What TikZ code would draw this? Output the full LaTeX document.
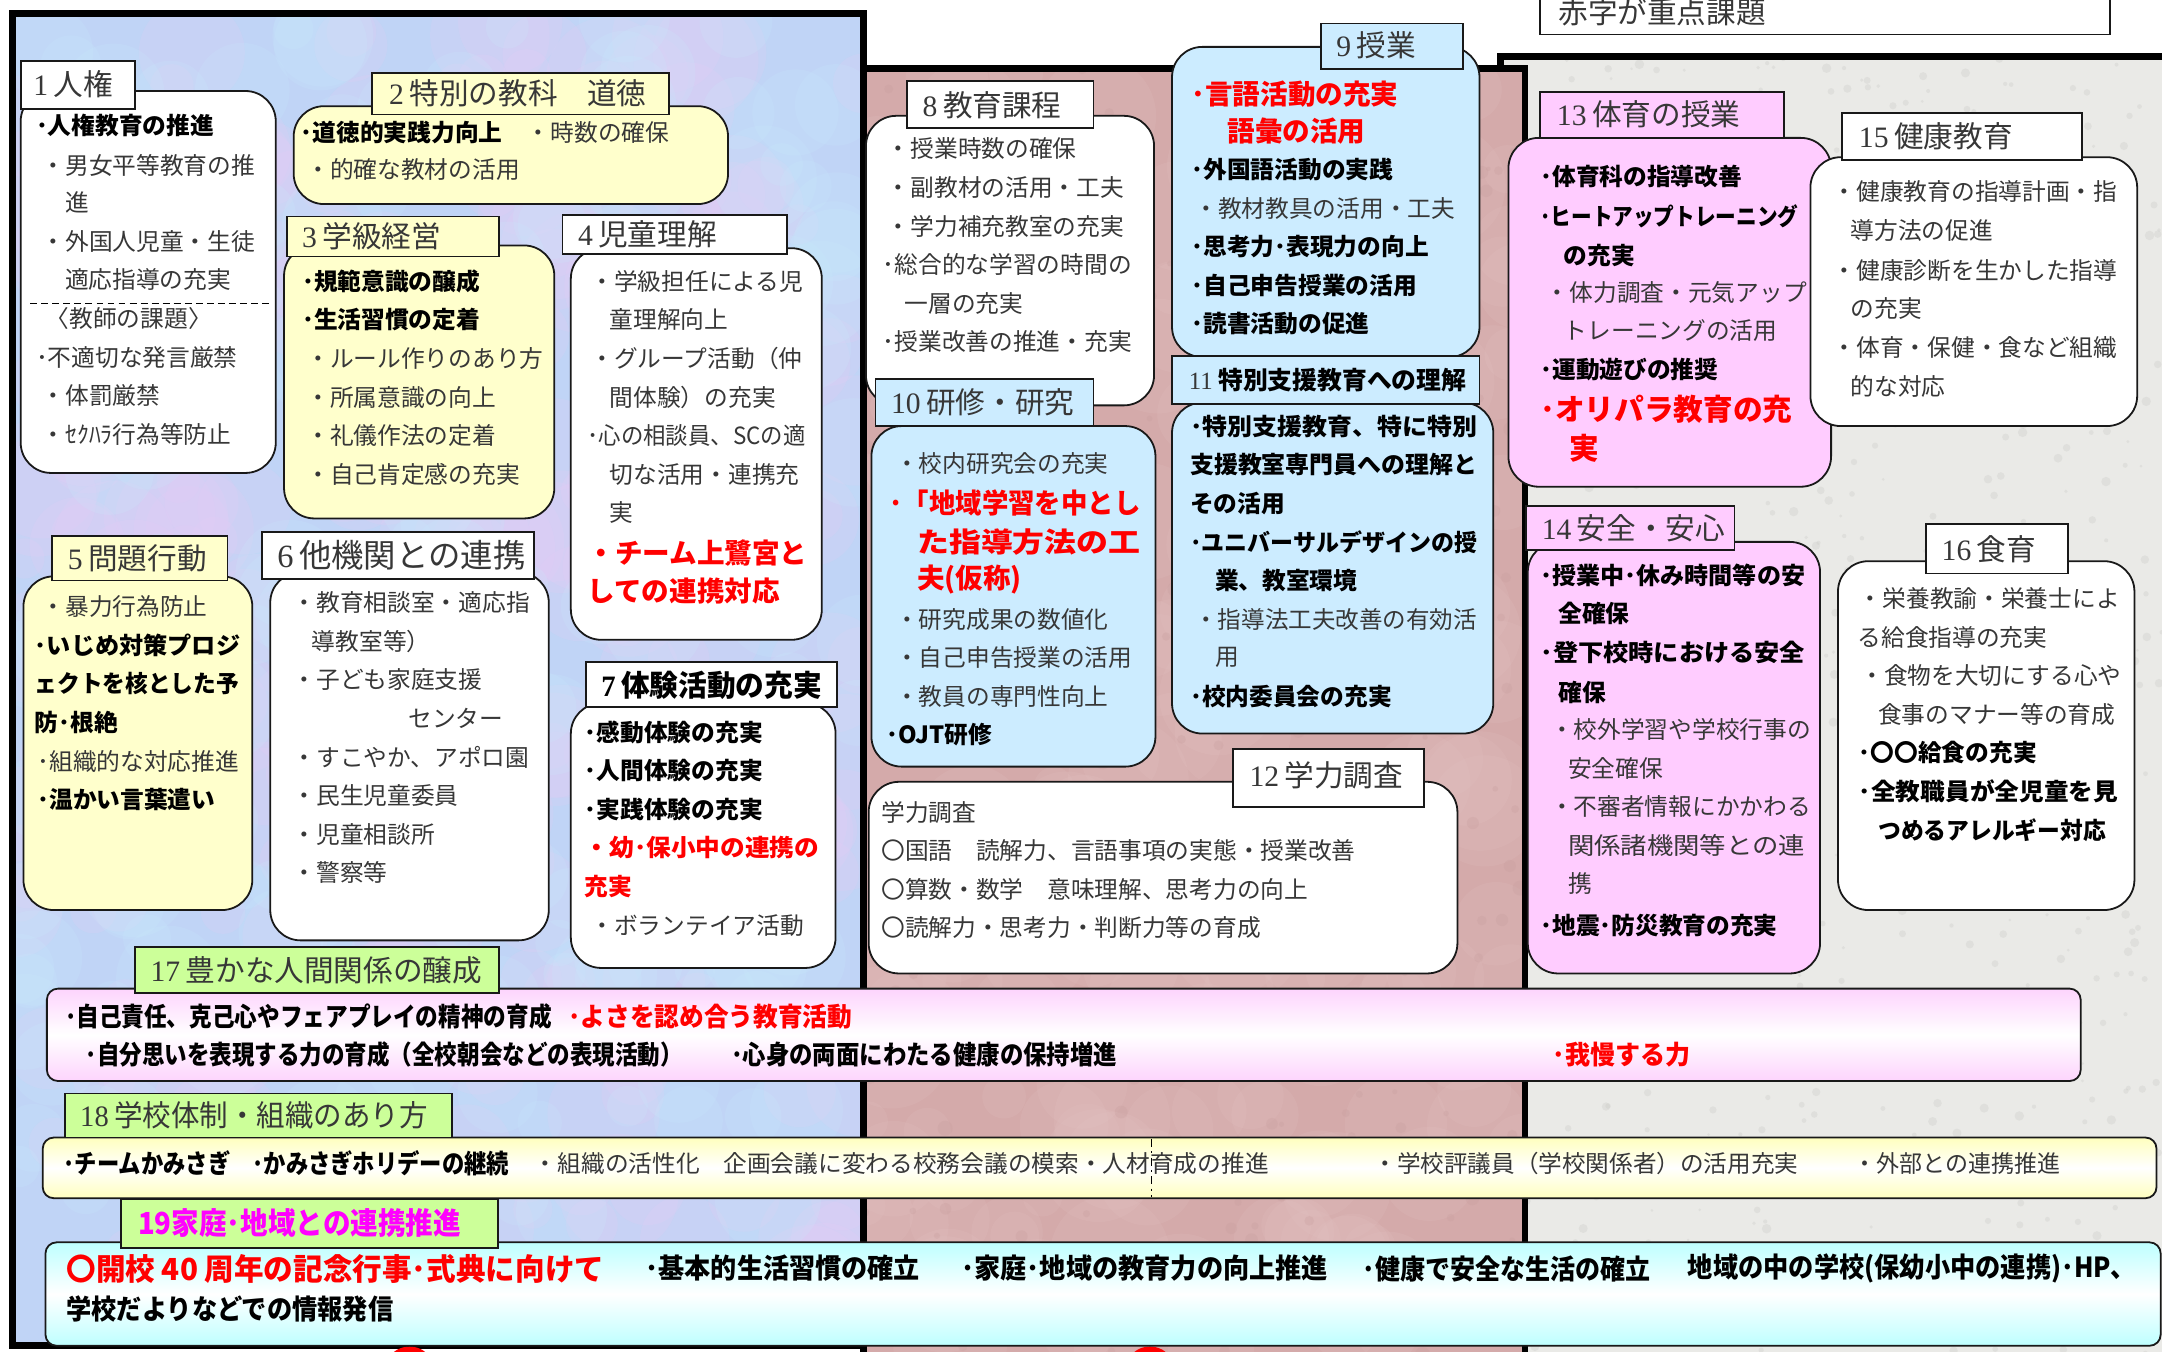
\documentclass[tikz,border=0pt]{standalone}
\usepackage{fontspec}
\usepackage{graphicx}
\setmainfont{Liberation Serif}
\newfontfamily\jp{Noto Sans CJK JP}
\newfontfamily\srf{Liberation Serif}
\definecolor{bluebg}{RGB}{192,212,246}
\definecolor{lavbg}{RGB}{230,204,244}
\definecolor{cyanbg}{RGB}{200,234,252}
\definecolor{pinkbg}{RGB}{212,170,170}
\definecolor{pinklt}{RGB}{228,196,196}
\definecolor{pinkdk}{RGB}{198,156,156}
\definecolor{graybg}{RGB}{234,234,231}
\definecolor{graydk}{RGB}{200,200,196}
\definecolor{yel}{RGB}{255,255,204}
\definecolor{lblue}{RGB}{204,236,255}
\definecolor{lpink}{RGB}{255,204,255}
\definecolor{lgreen}{RGB}{204,255,153}
\definecolor{txtg}{RGB}{55,55,55}
\definecolor{mag}{RGB}{255,0,255}
\definecolor{rd}{RGB}{255,0,0}
\definecolor{shpink}{RGB}{253,212,253}
\definecolor{shyel}{RGB}{255,255,190}
\definecolor{shcyan}{RGB}{190,255,255}
\newcommand\FW[2]{\resizebox{#1pt}{\height}{#2}}
\newcommand\Tx[4][stx]{\node[#1] (#2) at (#3) {#4};}
\newcommand\CB[6]{\node[#6,minimum width={(#4)-(#2)},minimum height={(#5)-(#3)}] (#1) at (#2,#3) {};}
\newcommand\Nm[1]{\srf #1\hspace{4pt}\jp }
\tikzset{
  stx/.style={anchor=west,inner sep=0pt,text=txtg,font=\jp\fontsize{17.2}{20}\selectfont},
  stb/.style={anchor=west,inner sep=0pt,text=black,font=\jp\bfseries\fontsize{17.2}{20}\selectfont},
  str/.style={stb,text=rd},
  strl/.style={anchor=west,inner sep=0pt,text=rd,font=\jp\bfseries\fontsize{20}{22}\selectfont},
  strx/.style={anchor=west,inner sep=0pt,text=rd,font=\jp\bfseries\fontsize{21.5}{24}\selectfont},
  slab/.style={anchor=west,inner sep=0pt,text=txtg,font=\jp\fontsize{21.5}{24}\selectfont},
  scond/.style={anchor=west,inner sep=0pt,text=black,font=\jp\bfseries\fontsize{19}{22}\selectfont},
  scondr/.style={scond,text=rd},
  sb19/.style={anchor=west,inner sep=0pt,text=black,font=\jp\bfseries\fontsize{20}{22}\selectfont},
  sbig/.style={anchor=west,inner sep=0pt,text=rd,font=\jp\bfseries\fontsize{22}{24}\selectfont},
  cbox/.style={draw=black!90,line width=1.3pt,rounded corners=22pt,anchor=north west,inner sep=0pt,outer sep=0pt},
  lbox/.style={draw=black!90,line width=1.3pt,anchor=north west,inner sep=0pt,outer sep=0pt},
  bbox/.style={draw=black!90,line width=1.3pt,rounded corners=8pt,anchor=north west,inner sep=0pt,outer sep=0pt},
}
\begin{document}
\begin{tikzpicture}[x=1pt,y=-1pt]
\useasboundingbox (0,0) rectangle (1568,980);
\pgfmathsetseed{11}
% ---------- gray panel
\fill[graybg] (1088,41) rectangle (1590,990);
\begin{scope}
\clip (1088,41) rectangle (1590,990);
\foreach \k in {1,...,700}{%
  \pgfmathsetmacro\pxa{1088+rnd*490}%
  \pgfmathsetmacro\pya{41+rnd*945}%
  \pgfmathsetmacro\pra{1+rnd*2.5}%
  \fill[graydk,opacity=0.3] (\pxa,\pya) circle[radius=\pra];
}
\end{scope}
\draw[line width=5pt] (1088,990) -- (1088,41) -- (1590,41);
% ---------- pink panel
\fill[pinkbg] (626,50) rectangle (1106,990);
\begin{scope}
\clip (626,50) rectangle (1106,990);
\foreach \k in {1,...,220}{%
  \pgfmathsetmacro\pxa{626+rnd*480}%
  \pgfmathsetmacro\pya{50+rnd*940}%
  \pgfmathsetmacro\pra{14+rnd*30}%
  \fill[pinklt,opacity=0.18] (\pxa,\pya) circle[radius=\pra];
}
\foreach \k in {1,...,300}{%
  \pgfmathsetmacro\pxa{626+rnd*480}%
  \pgfmathsetmacro\pya{50+rnd*940}%
  \pgfmathsetmacro\pra{1.5+rnd*4}%
  \fill[pinkdk,opacity=0.25] (\pxa,\pya) circle[radius=\pra];
}
\end{scope}
\draw[line width=5pt] (626,990) -- (626,50) -- (1106,50) -- (1106,990);
% ---------- blue panel
\fill[bluebg] (9,10) rectangle (626,976);
\begin{scope}
\clip (9,10) rectangle (626,976);
\foreach \k in {1,...,320}{%
  \pgfmathsetmacro\pxa{9+rnd*617}%
  \pgfmathsetmacro\pya{10+rnd*966}%
  \pgfmathsetmacro\pra{14+rnd*32}%
  \fill[lavbg,opacity=0.2] (\pxa,\pya) circle[radius=\pra];
}
\foreach \k in {1,...,200}{%
  \pgfmathsetmacro\pxa{9+rnd*617}%
  \pgfmathsetmacro\pya{10+rnd*966}%
  \pgfmathsetmacro\pra{12+rnd*28}%
  \fill[cyanbg,opacity=0.2] (\pxa,\pya) circle[radius=\pra];
}
\end{scope}
\draw[line width=5pt] (9,10) rectangle (626,976);
% red tips at the bottom
\fill[rd] (285,981) .. controls (292,975) and (302,975) .. (309,981) -- cycle;
\fill[rd] (822,981) .. controls (829,975) and (839,975) .. (846,981) -- cycle;
% ---------- note box
\CB{note}{1117}{-15}{1530}{25}{lbox,fill=white}
\Tx[slab]{notet}{1130,9}{赤字が重点課題}
% ---------- box 1
\CB{b1}{15}{66}{200}{343}{cbox,fill=white}
\CB{l1}{15}{44}{98}{79}{lbox,fill=white}
\Tx[slab]{L1}{24,61}{\Nm{1}人権}
\Tx[stb]{a1}{26,91}{･人権教育の推進}
\Tx{a2}{30,120}{・男女平等教育の推}
\Tx{a3}{47,147}{進}
\Tx{a4}{30,175}{・外国人児童・生徒}
\Tx{a5}{47,203}{適応指導の充実}
\draw[line width=0.9pt,dash pattern=on 5pt off 3pt] (22,220) -- (195,220);
\Tx{a6}{33,231}{〈教師の課題〉}
\Tx{a7}{26,259}{･不適切な発言厳禁}
\Tx{a8}{30,287}{・体罰厳禁}
\Tx{a9}{30,315}{・ｾｸﾊﾗ行為等防止}
% ---------- box 2
\CB{b2}{213}{77}{528}{148}{cbox,fill=yel}
\CB{l2}{270}{53}{485}{83}{lbox,fill=yel}
\Tx[slab]{L2}{282,68}{\Nm{2}特別の教科　道徳}
\Tx[stb]{c1}{218,96}{･道徳的実践力向上}
\Tx{c2}{382,96}{・時数の確保}
\Tx{c3}{222,123}{・的確な教材の活用}
% ---------- box 3
\CB{b3}{206}{178}{402}{376}{cbox,fill=yel}
\CB{l3}{208}{157}{362}{186}{lbox,fill=yel}
\Tx[slab]{L3}{219,171}{\Nm{3}学級経営}
\Tx[stb]{d1}{219,204}{･規範意識の醸成}
\Tx[stb]{d2}{219,232}{･生活習慣の定着}
\Tx{d3}{222,260}{・ルール作りのあり方}
\Tx{d4}{222,288}{・所属意識の向上}
\Tx{d5}{222,316}{・礼儀作法の定着}
\Tx{d6}{222,344}{・自己肯定感の充実}
% ---------- box 4
\CB{b4}{414}{180}{596}{464}{cbox,fill=white}
\CB{l4}{408}{156}{571}{184}{lbox,fill=white}
\Tx[slab]{L4}{419,170}{\Nm{4}児童理解}
\Tx{e1}{428,204}{・学級担任による児}
\Tx{e2}{442,232}{童理解向上}
\Tx{e3}{428,260}{・グループ活動（仲}
\Tx{e4}{442,288}{間体験）の充実}
\Tx{e5}{426,316}{\FW{158}{･心の相談員、SCの適}}
\Tx{e6}{442,344}{切な活用・連携充}
\Tx{e7}{442,372}{実}
\Tx[strl]{e8}{426,401}{・チーム上鷺宮と}
\Tx[strl]{e9}{426,429}{しての連携対応}
% ---------- box 5
\CB{b5}{17}{418}{183}{660}{cbox,fill=yel}
\CB{l5}{38}{389}{165}{421}{lbox,fill=yel}
\Tx[slab]{L5}{49,405}{\Nm{5}問題行動}
\Tx{f1}{30,440}{・暴力行為防止}
\Tx[stb]{f2}{25,468}{\FW{149}{･いじめ対策プロジ}}
\Tx[stb]{f3}{25,496}{\FW{148}{ェクトを核とした予}}
\Tx[stb]{f4}{25,524}{防･根絶}
\Tx{f5}{27,552}{･組織的な対応推進}
\Tx[stb]{f6}{27,580}{･温かい言葉遣い}
% ---------- box 6
\CB{b6}{196}{415}{398}{682}{cbox,fill=white}
\CB{l6}{190}{386}{387}{420}{lbox,fill=white}
\Tx[slab]{L6}{201,403}{\fontsize{23.5}{26}\selectfont\Nm{6}他機関との連携}
\Tx{g1}{212,437}{・教育相談室・適応指}
\Tx{g2}{226,465}{導教室等）}
\Tx{g3}{212,493}{・子ども家庭支援}
\Tx{g4}{296,521}{センター}
\Tx{g5}{212,549}{・すこやか、アポロ園}
\Tx{g6}{212,577}{・民生児童委員}
\Tx{g7}{212,605}{・児童相談所}
\Tx{g8}{212,633}{・警察等}
% ---------- box 7
\CB{b7}{414}{510}{606}{702}{cbox,fill=white}
\CB{l7}{425}{480}{607}{513}{lbox,fill=white}
\Tx[slab]{L7}{436,497}{\color{black}\bfseries\FW{160}{\Nm{7}体験活動の充実}}
\Tx[stb]{h1}{424,531}{･感動体験の充実}
\Tx[stb]{h2}{424,559}{･人間体験の充実}
\Tx[stb]{h3}{424,587}{･実践体験の充実}
\Tx[str]{h4}{424,615}{\FW{170}{・幼･保小中の連携の}}
\Tx[str]{h5}{424,643}{充実}
\Tx{h6}{428,671}{・ボランテイア活動}
% ---------- box 8
\CB{b8}{628}{84}{837}{294}{cbox,fill=white}
\CB{l8}{658}{59}{793}{93}{lbox,fill=white}
\Tx[slab]{L8}{669,76}{\Nm{8}教育課程}
\Tx{i1}{643,108}{・授業時数の確保}
\Tx{i2}{643,136}{・副教材の活用・工夫}
\Tx{i3}{643,164}{・学力補充教室の充実}
\Tx{i4}{640,192}{･総合的な学習の時間の}
\Tx{i5}{656,220}{一層の充実}
\Tx{i6}{640,248}{･授業改善の推進・充実}
% ---------- box 9
\CB{b9}{850}{34}{1073}{259}{cbox,fill=lblue}
\CB{l9}{958}{17}{1061}{50}{lbox,fill=lblue}
\Tx[slab]{L9}{969,33}{\Nm{9}授業}
\Tx[strl]{j1}{864,68}{･言語活動の充実}
\Tx[strl]{j2}{890,95}{語彙の活用}
\Tx[stb]{j3}{864,123}{･外国語活動の実践}
\Tx{j4}{866,151}{・教材教具の活用・工夫}
\Tx[stb]{j5}{864,179}{･思考力･表現力の向上}
\Tx[stb]{j6}{864,207}{･自己申告授業の活用}
\Tx[stb]{j7}{864,235}{･読書活動の促進}
% ---------- box 10
\CB{b10}{632}{309}{838}{556}{cbox,fill=lblue}
\CB{l10}{635}{275}{793}{309}{lbox,fill=lblue}
\Tx[slab]{L10}{646,292}{\Nm{10}研修・研究}
\Tx{k1}{649,336}{・校内研究会の充実}
\Tx[strl]{k2}{645,365}{\FW{182}{･「地域学習を中とし}}
\Tx[strl]{k3}{665,393}{\FW{162}{た指導方法の工}}
\Tx[strl]{k4}{665,420}{夫(仮称)}
\Tx{k5}{649,449}{・研究成果の数値化}
\Tx{k6}{649,477}{・自己申告授業の活用}
\Tx{k7}{649,505}{・教員の専門性向上}
\Tx[stb]{k8}{643,533}{･OJT研修}
% ---------- box 11
\CB{b11}{850}{292}{1083}{532}{cbox,fill=lblue}
\CB{l11}{850}{258}{1073}{293}{lbox,fill=lblue}
\Tx[slab]{L11}{862,276}{\fontsize{18}{20}\selectfont\Nm{11}\bfseries\color{black}特別支援教育への理解}
\Tx[stb]{m1}{863,309}{\FW{208}{･特別支援教育、特に特別}}
\Tx[stb]{m2}{863,337}{\FW{208}{支援教室専門員への理解と}}
\Tx[stb]{m3}{863,365}{その活用}
\Tx[stb]{m4}{863,393}{\FW{208}{･ユニバーサルデザインの授}}
\Tx[stb]{m5}{881,421}{業、教室環境}
\Tx{m6}{866,449}{\FW{205}{・指導法工夫改善の有効活}}
\Tx{m7}{881,477}{用}
\Tx[stb]{m8}{863,505}{･校内委員会の充実}
% ---------- box 12
\CB{b12}{630}{567}{1057}{706}{cbox,fill=white}
\CB{l12}{894}{543}{1033}{585}{lbox,fill=white}
\Tx[slab]{L12}{906,562}{\Nm{12}学力調査}
\Tx{n1}{639,589}{学力調査}
\Tx{n2}{639,617}{〇国語　読解力、言語事項の実態・授業改善}
\Tx{n3}{639,645}{〇算数・数学　意味理解、思考力の向上}
\Tx{n4}{639,673}{〇読解力・思考力・判断力等の育成}
% ---------- box 13
\CB{b13}{1094}{100}{1328}{353}{cbox,fill=lpink}
\CB{l13}{1117}{67}{1294}{100}{lbox,fill=lpink}
\Tx[slab]{L13}{1129,83}{\Nm{13}体育の授業}
\Tx[stb]{p1}{1117,128}{･体育科の指導改善}
\Tx[stb]{p2}{1117,157}{\FW{187}{･ヒートアップトレーニング}}
\Tx[stb]{p3}{1134,185}{の充実}
\Tx{p4}{1121,212}{・体力調査・元気アップ}
\Tx{p5}{1134,240}{トレーニングの活用}
\Tx[stb]{p6}{1117,268}{･運動遊びの推奨}
\Tx[strx]{p7}{1117,297}{･オリパラ教育の充}
\Tx[strx]{p8}{1138,325}{実}
% ---------- box 14
\CB{b14}{1108}{393}{1320}{706}{cbox,fill=lpink}
\CB{l14}{1107}{367}{1258}{399}{lbox,fill=lpink}
\Tx[slab]{L14}{1118,383}{\Nm{14}安全・安心}
\Tx[stb]{q1}{1117,417}{\FW{192}{･授業中･休み時間等の安}}
\Tx[stb]{q2}{1130,445}{全確保}
\Tx[stb]{q3}{1117,473}{\FW{192}{･登下校時における安全}}
\Tx[stb]{q4}{1130,502}{確保}
\Tx{q5}{1124,529}{・校外学習や学校行事の}
\Tx{q6}{1137,557}{安全確保}
\Tx{q7}{1124,585}{・不審者情報にかかわる}
\Tx{q8}{1137,613}{\FW{172}{関係諸機関等との連}}
\Tx{q9}{1137,641}{携}
\Tx[stb]{q10}{1117,671}{･地震･防災教育の充実}
% ---------- box 15
\CB{b15}{1313}{114}{1550}{309}{cbox,fill=white}
\CB{l15}{1336}{82}{1510}{116}{lbox,fill=white}
\Tx[slab]{L15}{1348,99}{\Nm{15}健康教育}
\Tx{r1}{1329,139}{・健康教育の指導計画・指}
\Tx{r2}{1342,167}{導方法の促進}
\Tx{r3}{1329,196}{・健康診断を生かした指導}
\Tx{r4}{1342,224}{の充実}
\Tx{r5}{1329,252}{・体育・保健・食など組織}
\Tx{r6}{1342,280}{的な対応}
% ---------- box 16
\CB{b16}{1333}{407}{1548}{660}{cbox,fill=white}
\CB{l16}{1397}{380}{1500}{416}{lbox,fill=white}
\Tx[slab]{L16}{1408,398}{\Nm{16}食育}
\Tx{s1}{1348,434}{・栄養教諭・栄養士によ}
\Tx{s2}{1347,462}{る給食指導の充実}
\Tx{s3}{1349,490}{・食物を大切にする心や}
\Tx{s4}{1362,518}{食事のマナー等の育成}
\Tx[stb]{s5}{1348,546}{･〇〇給食の充実}
\Tx[stb]{s6}{1348,574}{\FW{188}{･全教職員が全児童を見}}
\Tx[stb]{s7}{1362,602}{\FW{165}{つめるアレルギー対応}}
% ---------- box 17
\CB{b17}{34}{717}{1509}{784}{bbox,top color=shpink,bottom color=shpink,middle color=white}
\CB{l17}{98}{687}{362}{720}{lbox,fill=lgreen}
\Tx[slab]{L17}{109,704}{\Nm{17}豊かな人間関係の醸成}
\Tx[scond]{u1}{47,737}{\FW{353}{･自己責任、克己心やフェアプレイの精神の育成}}
\Tx[scondr]{u2}{412,737}{\FW{206}{･よさを認め合う教育活動}}
\Tx[scond]{u3}{62,765}{\FW{433}{･自分思いを表現する力の育成（全校朝会などの表現活動）}}
\Tx[scond]{u4}{530,765}{\FW{280}{･心身の両面にわたる健康の保持増進}}
\Tx[scondr]{u5}{1126,765}{\FW{100}{･我慢する力}}
% ---------- box 18
\CB{b18}{31}{825}{1564}{869}{bbox,top color=shyel,bottom color=shyel,middle color=white}
\CB{l18}{47}{793}{328}{825}{lbox,fill=lgreen}
\Tx[slab]{L18}{58,809}{\FW{252}{\Nm{18}学校体制・組織のあり方}}
\coordinate (dv1) at (835,826);
\coordinate (dv2) at (835,868);
\draw[line width=0.8pt,dash pattern=on 6pt off 3pt on 1.5pt off 3pt] (dv1) -- (dv2);
\Tx[scond]{v1}{46,844}{\FW{323}{･チームかみさぎ　･かみさぎホリデーの継続}}
\Tx{v2}{387,844}{\FW{533}{・組織の活性化　企画会議に変わる校務会議の模索・人材育成の推進}}
\Tx{v3}{996,844}{\FW{308}{・学校評議員（学校関係者）の活用充実}}
\Tx{v4}{1344,844}{\FW{150}{・外部との連携推進}}
% ---------- box 19
\CB{b19}{33}{901}{1567}{976}{bbox,top color=shcyan,bottom color=shcyan,middle color=white}
\CB{l19}{88}{870}{361}{905}{lbox,fill=lgreen}
\Tx[scond]{L19}{100,887}{\color{mag}\fontsize{22}{24}\selectfont\FW{234}{19家庭･地域との連携推進}}
\Tx[sbig]{w1}{48,920}{\FW{390}{〇開校 40 周年の記念行事･式典に向けて}}
\Tx[sb19]{w2}{468,920}{\FW{199}{･基本的生活習慣の確立}}
\Tx[sb19]{w3}{697,920}{\FW{266}{･家庭･地域の教育力の向上推進}}
\Tx[sb19]{w4}{988,920}{\FW{209}{･健康で安全な生活の確立}}
\Tx[sb19]{w5}{1224,920}{\FW{325}{地域の中の学校(保幼小中の連携)･HP、}}
\Tx[sb19]{w6}{48,949}{\FW{237}{学校だよりなどでの情報発信}}
\end{tikzpicture}
\end{document}
